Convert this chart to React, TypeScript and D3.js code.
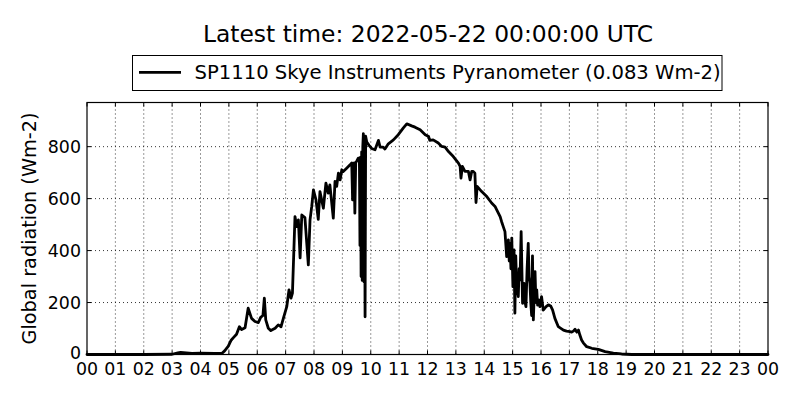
import { useEffect, useRef } from 'react'
import * as d3 from 'd3'

const titleText = 'Latest time: 2022-05-22 00:00:00 UTC'
const seriesLabel = 'SP1110 Skye Instruments Pyranometer (0.083 Wm-2)'
const yAxisLabel = 'Global radiation (Wm-2)'
const hourTicks = ['00', '01', '02', '03', '04', '05', '06', '07', '08', '09', '10', '11',
  '12', '13', '14', '15', '16', '17', '18', '19', '20', '21', '22', '23', '00']
const radiationTicks = [0, 200, 400, 600, 800]

// hours since midnight UTC
const timeHours = [
  0, 1, 2, 3.0, 3.2, 3.3, 3.5, 3.7, 4.0, 4.5, 4.75,
  4.85, 4.98, 5.08, 5.16, 5.27, 5.37, 5.45, 5.57, 5.68, 5.8, 5.92, 6.04, 6.12, 6.2, 6.25, 6.3,
  6.39, 6.48, 6.63, 6.74, 6.84, 6.92, 7.04, 7.12, 7.19, 7.24, 7.33, 7.39, 7.45, 7.51, 7.57,
  7.68, 7.8, 7.86, 7.92, 7.98, 8.07, 8.15, 8.21, 8.33, 8.42, 8.5, 8.56, 8.68, 8.74, 8.8,
  8.86, 8.92, 8.98, 9.03, 9.15, 9.27, 9.33, 9.36, 9.38, 9.41, 9.44, 9.47, 9.5, 9.56, 9.6,
  9.62, 9.64, 9.66, 9.68, 9.7, 9.72, 9.74, 9.76, 9.78, 9.8, 9.82, 9.86, 9.94, 10.03, 10.15,
  10.27, 10.33, 10.44, 10.5, 10.62, 10.8, 10.97, 11.15, 11.27, 11.44, 11.56, 11.74, 11.92,
  12.04, 12.08, 12.2, 12.38, 12.5, 12.62, 12.74, 12.91, 13.09, 13.15, 13.18, 13.23, 13.32,
  13.44, 13.5, 13.56, 13.61, 13.67, 13.71, 13.75, 13.91, 14.09, 14.26, 14.38, 14.44, 14.56,
  14.61, 14.67, 14.73, 14.79, 14.82, 14.85, 14.88, 14.91, 14.94, 14.97, 15.01, 15.05, 15.08,
  15.11, 15.14, 15.17, 15.2, 15.23, 15.26, 15.3, 15.35, 15.4, 15.44, 15.47, 15.51, 15.55,
  15.58, 15.61, 15.64, 15.67, 15.7, 15.73, 15.79, 15.82, 15.85, 15.88, 15.91, 15.96, 16.02,
  16.08, 16.18, 16.26, 16.34, 16.41, 16.49, 16.61, 16.79, 16.9, 17.02, 17.08, 17.14, 17.2,
  17.26, 17.32, 17.37, 17.43, 17.49, 17.61, 17.79, 18.02, 18.26, 18.55, 18.84, 19.2, 20, 22, 24,
]

const globalRadiation = [
  0, 0, 0, 1, 6, 8, 6, 4, 5, 4, 4,
  14, 32, 55, 65, 78, 107, 96, 103, 178, 139, 127, 123, 143, 150, 217, 133,
  101, 92, 101, 114, 107, 139, 184, 249, 217, 236, 531, 492, 518, 372, 537,
  527, 345, 518, 570, 634, 595, 520, 627, 563, 660, 621, 653, 525, 666, 647,
  698, 672, 711, 704, 717, 730, 737, 595, 737, 737, 544, 740, 743, 756, 745,
  420, 760, 300, 780, 285, 800, 850, 280, 830, 145, 840, 818, 805, 793, 788,
  824, 798, 798, 791, 811, 826, 846, 872, 888, 880, 875, 865, 846,
  839, 824, 826, 814, 801, 798, 781, 762, 737, 724, 679, 724, 705,
  705, 672, 705, 705, 698, 585, 647, 627, 608, 583, 570, 557, 531,
  512, 492, 473, 377, 420, 441, 360, 428, 330, 448, 261, 403, 159,
  380, 274, 250, 223, 330, 287, 473, 197, 274, 200, 184, 330, 428,
  300, 274, 200, 150, 380, 133, 319, 200, 249, 190, 210, 184, 223,
  171, 184, 191, 187, 171, 139, 107, 94, 90, 88, 86, 90, 97,
  86, 94, 75, 56, 45, 30, 24, 20, 11, 5, 2, 0, 0, 0, 0,
]

const width = 800
const height = 400
const margin = { top: 102.5, right: 32, bottom: 45.5, left: 87 }
const font = '"DejaVu Sans", sans-serif'

export default function App() {
  const svgRef = useRef<SVGSVGElement>(null)

  useEffect(() => {
    if (!svgRef.current) return
    const svg = d3.select(svgRef.current)
    svg.selectAll('*').remove()

    const x0 = margin.left
    const x1 = width - margin.right
    const y0 = height - margin.bottom
    const y1 = margin.top

    const x = d3.scaleLinear().domain([0, 24]).range([x0, x1])
    const y = d3.scaleLinear().domain([0, 970]).range([y0, y1])

    svg.append('rect').attr('width', width).attr('height', height).attr('fill', '#fff')

    // Title
    svg.append('text')
      .attr('x', 428).attr('y', 42)
      .attr('text-anchor', 'middle')
      .style('font-family', font).style('font-size', '23.4px')
      .text(titleText)

    // Legend
    const legend = svg.append('g')
    legend.append('rect')
      .attr('x', 132.5).attr('y', 55.5).attr('width', 589.5).attr('height', 35)
      .attr('fill', '#fff').attr('stroke', '#000').attr('stroke-width', 1)
    legend.append('line')
      .attr('x1', 139).attr('x2', 181).attr('y1', 72.3).attr('y2', 72.3)
      .attr('stroke', '#000').attr('stroke-width', 2.8)
    legend.append('text')
      .attr('x', 194.5).attr('y', 79.3)
      .style('font-family', font).style('font-size', '19.6px')
      .text(seriesLabel)

    // Grid
    const grid = svg.append('g')
      .attr('stroke', '#000').attr('stroke-width', 0.8).attr('stroke-dasharray', '1,3')
    hourTicks.forEach((_, i) => {
      if (i === 0 || i === hourTicks.length - 1) return
      grid.append('line')
        .attr('x1', x(i)).attr('x2', x(i)).attr('y1', y0).attr('y2', y1)
    })
    radiationTicks.forEach(v => {
      if (v === 0) return
      grid.append('line')
        .attr('x1', x0).attr('x2', x1).attr('y1', y(v)).attr('y2', y(v))
    })

    // Inward ticks
    const ticks = svg.append('g').attr('stroke', '#000').attr('stroke-width', 1)
    hourTicks.forEach((_, i) => {
      ticks.append('line').attr('x1', x(i)).attr('x2', x(i)).attr('y1', y0).attr('y2', y0 - 4)
      ticks.append('line').attr('x1', x(i)).attr('x2', x(i)).attr('y1', y1).attr('y2', y1 + 4)
    })
    radiationTicks.forEach(v => {
      ticks.append('line').attr('x1', x0).attr('x2', x0 + 4).attr('y1', y(v)).attr('y2', y(v))
      ticks.append('line').attr('x1', x1).attr('x2', x1 - 4).attr('y1', y(v)).attr('y2', y(v))
    })

    // Series line
    const points: [number, number][] = timeHours.map((t, i) => [t, globalRadiation[i]])
    const line = d3.line<[number, number]>()
      .x(d => x(d[0]))
      .y(d => y(d[1]))
    svg.append('path')
      .datum(points)
      .attr('d', line)
      .attr('fill', 'none')
      .attr('stroke', '#000')
      .attr('stroke-width', 2.8)
      .attr('stroke-linejoin', 'round')
      .attr('stroke-linecap', 'round')

    // Frame
    svg.append('rect')
      .attr('x', x0).attr('y', y1).attr('width', x1 - x0).attr('height', y0 - y1)
      .attr('fill', 'none').attr('stroke', '#000').attr('stroke-width', 1.2)

    // Tick labels
    const labels = svg.append('g')
      .style('font-family', font).style('font-size', '17.4px')
    hourTicks.forEach((h, i) => {
      labels.append('text')
        .attr('x', x(i)).attr('y', y0 + 20)
        .attr('text-anchor', 'middle')
        .text(h)
    })
    radiationTicks.forEach(v => {
      labels.append('text')
        .attr('x', x0 - 6).attr('y', y(v) + (v === 0 ? 4 : 6))
        .attr('text-anchor', 'end')
        .text(String(v))
    })

    // Y axis label
    svg.append('text')
      .attr('transform', `translate(36,${(y0 + y1) / 2}) rotate(-90)`)
      .attr('text-anchor', 'middle')
      .style('font-family', font).style('font-size', '19.3px')
      .text(yAxisLabel)
  }, [])

  return (
    <svg
      ref={svgRef}
      width={width}
      height={height}
      style={{ position: 'absolute', left: 0, top: 0, display: 'block' }}
    />
  )
}
